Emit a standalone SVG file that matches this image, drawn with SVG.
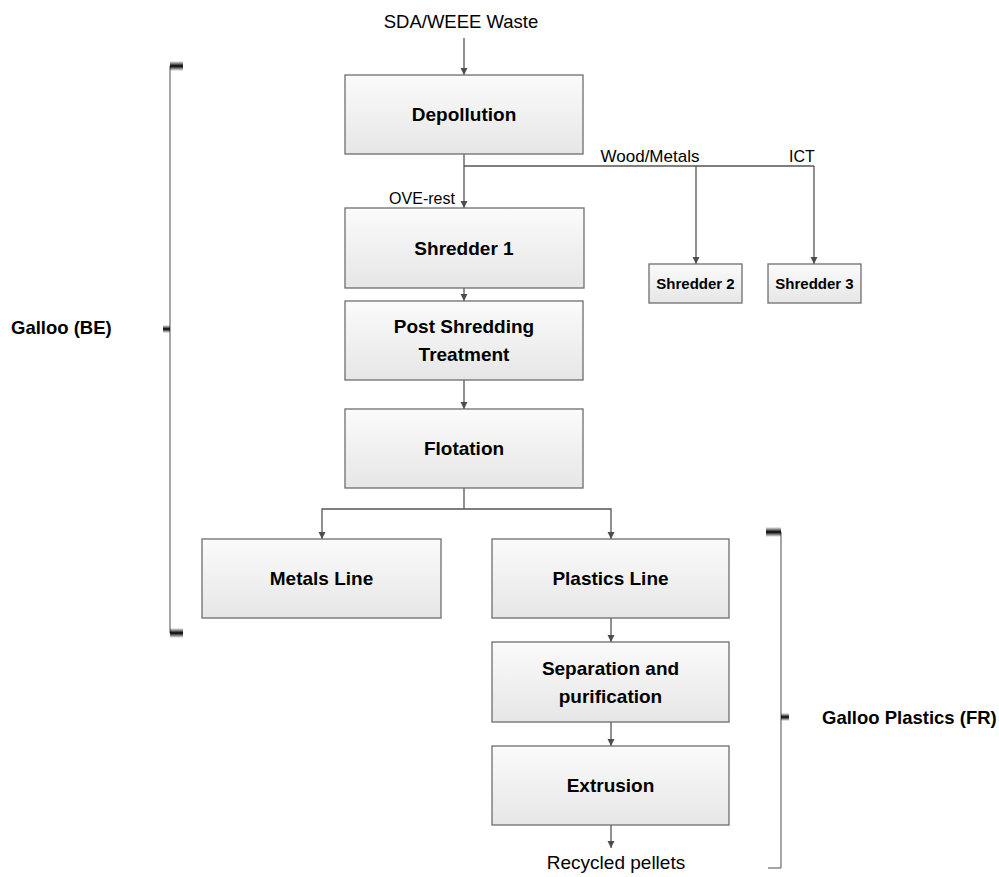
<svg xmlns="http://www.w3.org/2000/svg" width="999" height="877" viewBox="0 0 999 877">
<defs>
<linearGradient id="boxfill" x1="0" y1="0" x2="0" y2="1">
<stop offset="0" stop-color="#fbfbfb"/>
<stop offset="1" stop-color="#e6e6e6"/>
</linearGradient>
<linearGradient id="tickv" x1="0" y1="0" x2="0" y2="1">
<stop offset="0" stop-color="#000" stop-opacity="0"/>
<stop offset="0.5" stop-color="#000" stop-opacity="1"/>
<stop offset="1" stop-color="#000" stop-opacity="0"/>
</linearGradient>
<marker id="arr" markerUnits="userSpaceOnUse" markerWidth="8" markerHeight="8" refX="7" refY="4" orient="auto">
<path d="M0,0.5 L7,4 L0,7.5 z" fill="#4d4d4d"/>
</marker>
<style>
.box{fill:url(#boxfill);stroke:#6e6e6e;stroke-width:1.3}
.lbl{font-family:"Liberation Sans",Arial,sans-serif;font-weight:bold;font-size:19px;fill:#000;text-anchor:middle}
.sm{font-size:15px}
.txt{font-family:"Liberation Sans",Arial,sans-serif;font-size:17px;fill:#000;text-anchor:middle}
.con{fill:none;stroke:#555;stroke-width:1.3}
.arrow{marker-end:url(#arr)}
.br{fill:none;stroke:#777;stroke-width:1.3}
.grp{font-family:"Liberation Sans",Arial,sans-serif;font-weight:bold;font-size:18.5px;fill:#000}
</style>
</defs>
<rect width="999" height="877" fill="#fff"/>

<g id="connectors">
<line class="con arrow" x1="464" y1="38" x2="464" y2="75"/>
<line class="con arrow" x1="464" y1="154" x2="464" y2="208"/>
<polyline class="con" points="464,166 814,166"/>
<line class="con arrow" x1="696" y1="166" x2="696" y2="264"/>
<line class="con arrow" x1="814" y1="166" x2="814" y2="264"/>
<line class="con arrow" x1="464" y1="288" x2="464" y2="301"/>
<line class="con arrow" x1="464" y1="380" x2="464" y2="409"/>
<polyline class="con" points="464,488 464,509"/>
<polyline class="con arrow" points="464,509 322,509 322,539"/>
<polyline class="con arrow" points="464,509 611,509 611,539"/>
<line class="con arrow" x1="611" y1="618" x2="611" y2="642"/>
<line class="con arrow" x1="611" y1="722" x2="611" y2="746"/>
<line class="con arrow" x1="611" y1="825" x2="611" y2="848"/>
</g>

<g id="labels">
<text class="txt" x="461" y="28" style="font-size:18.5px">SDA/WEEE Waste</text>
<text class="txt" x="422" y="204" style="font-size:16px">OVE-rest</text>
<text class="txt" x="650" y="162">Wood/Metals</text>
<text class="txt" x="802" y="162" style="font-size:16px">ICT</text>
<text class="txt" x="616" y="869" style="font-size:19px">Recycled pellets</text>
</g>

<g id="depollution"><rect class="box" x="345" y="75" width="238" height="79"/><text class="lbl" x="464" y="121">Depollution</text></g>
<g id="shredder1"><rect class="box" x="345" y="208" width="239" height="80"/><text class="lbl" x="464" y="255">Shredder 1</text></g>
<g id="shredder2"><rect class="box" x="649" y="264" width="93" height="39"/><text class="lbl sm" x="695.5" y="289">Shredder 2</text></g>
<g id="shredder3"><rect class="box" x="768" y="264" width="93" height="39"/><text class="lbl sm" x="814.5" y="289">Shredder 3</text></g>
<g id="postshredding"><rect class="box" x="345" y="301" width="238" height="79"/><text class="lbl" x="464" y="333">Post Shredding</text><text class="lbl" x="464" y="361">Treatment</text></g>
<g id="flotation"><rect class="box" x="345" y="409" width="238" height="79"/><text class="lbl" x="464" y="455">Flotation</text></g>
<g id="metalsline"><rect class="box" x="202" y="539" width="239" height="79"/><text class="lbl" x="321.5" y="585">Metals Line</text></g>
<g id="plasticsline"><rect class="box" x="492" y="539" width="237" height="79"/><text class="lbl" x="610.5" y="585">Plastics Line</text></g>
<g id="separation"><rect class="box" x="492" y="642" width="237" height="80"/><text class="lbl" x="610.5" y="674.5">Separation and</text><text class="lbl" x="610.5" y="702.5">purification</text></g>
<g id="extrusion"><rect class="box" x="492" y="746" width="237" height="79"/><text class="lbl" x="610.5" y="792">Extrusion</text></g>

<g id="bracket-be">
<line class="br" x1="170" y1="66" x2="170" y2="633"/>
<rect x="170" y="61" width="13" height="10" fill="url(#tickv)"/>
<rect x="170" y="628" width="13" height="10" fill="url(#tickv)"/>
<rect x="163" y="325" width="7" height="8" fill="url(#tickv)"/>
<text class="grp" x="11" y="334">Galloo (BE)</text>
</g>

<g id="bracket-fr">
<line class="br" x1="781" y1="532" x2="781" y2="868"/>
<line class="br" x1="768" y1="868" x2="781" y2="868"/>
<rect x="766" y="527" width="15" height="10" fill="url(#tickv)"/>
<rect x="781" y="713" width="8" height="8" fill="url(#tickv)"/>
<text class="grp" x="822" y="724">Galloo Plastics (FR)</text>
</g>
</svg>
